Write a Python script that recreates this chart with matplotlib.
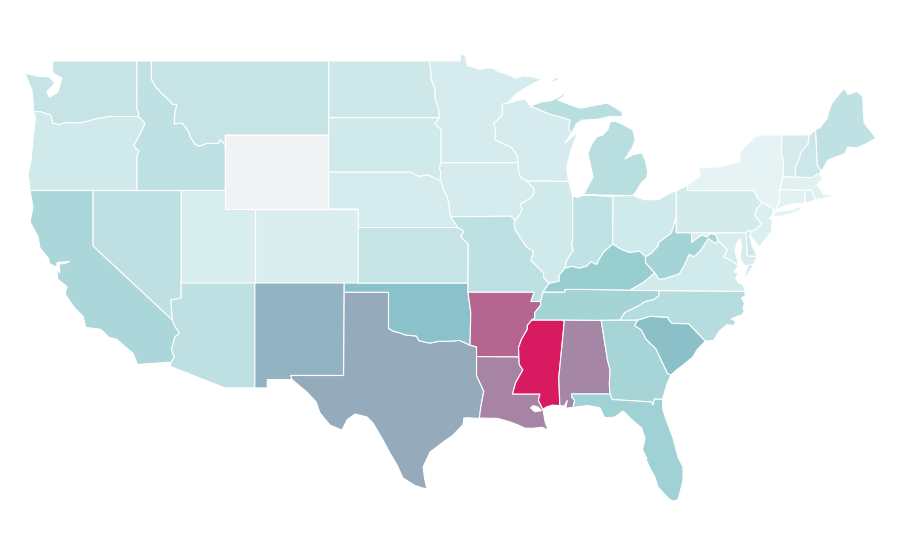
#!/usr/bin/env python3
# choropleth of the lower 48, outlines are plain lon/lat
import matplotlib
matplotlib.use("Agg")
import matplotlib.pyplot as plt
from matplotlib.colors import LinearSegmentedColormap, Normalize

# estimated rate per state, read from the fill colours
states = ["WA", "OR", "CA", "NV", "ID", "MT", "WY", "UT", "AZ", "CO", "NM", "TX", "OK", "KS", "NE", "SD", "ND",
          "MN", "IA", "MO", "AR", "LA", "MS", "AL", "WI", "IL", "IN", "MI", "OH", "KY", "TN", "GA", "FL", "SC",
          "NC", "VA", "WV", "MD", "DE", "PA", "NJ", "NY", "CT", "RI", "MA", "VT", "NH", "ME"]
values = [17, 13, 27, 20, 19.5, 17, 0, 10, 20, 9, 45, 48, 40, 17, 11.3, 13, 13.7,
          11.3, 11.3, 20.7, 73, 62, 100, 61, 11.3, 13, 19, 22, 13, 34.5, 30, 29.4, 32, 40.5,
          23.5, 12.5, 30, 10.5, 14, 11.7, 8.5, 5, 7, 8.5, 6.6, 11, 14.5, 19.6]

scale_stops = [0, 0.05, 0.345, 0.40, 1]
scale_colors = ["#f2f3f5", "#e4f3f4", "#99ced1", "#8bc1ca", "#d81b60"]


def rev(chain):
    return chain[::-1]


# shared borders (lon, lat), each used by both neighbours
wa_coast = [(-124.05, 46.27), (-124.05, 46.7), (-124.15, 47.43), (-124.4, 47.9), (-124.62, 48.35), (-123.8, 48.18),
            (-122.95, 48.13), (-122.6, 47.8), (-123.15, 47.32), (-122.95, 47.05), (-122.4, 47.3), (-122.1, 48.08),
            (-122.73, 48.35), (-122.75, 49.0)]
wa_or = [(-124.05, 46.27), (-123.55, 46.26), (-123.2, 46.15), (-122.9, 46.1), (-122.8, 45.87), (-122.75, 45.65),
         (-122.3, 45.55), (-121.9, 45.68), (-121.2, 45.65), (-120.9, 45.65), (-120.5, 45.72), (-119.6, 45.92),
         (-119.25, 45.93), (-119.0, 46.0), (-116.92, 46.0)]
id_wa = [(-117.03, 49.0), (-117.04, 46.42), (-116.92, 46.17), (-116.92, 46.0)]
or_id = [(-116.92, 46.0), (-116.7, 45.82), (-116.47, 45.6), (-116.67, 45.3), (-116.85, 45.0), (-117.23, 44.45),
         (-117.05, 44.23), (-116.9, 44.15), (-117.03, 43.83), (-117.03, 42.0)]
or_coast = [(-124.05, 46.27), (-123.9, 45.97), (-124.07, 44.73), (-124.2, 43.6), (-124.4, 42.95), (-124.27, 42.0)]
ca_coast = [(-124.27, 42.0), (-124.07, 41.1), (-124.27, 40.3), (-123.73, 39.5), (-123.6, 38.9), (-123.0, 38.3),
            (-122.95, 38.05), (-122.45, 37.85), (-122.45, 38.1), (-121.6, 38.17), (-121.9, 38.05), (-122.3, 38.03),
            (-122.25, 37.55), (-122.45, 37.75), (-122.4, 37.2), (-122.0, 36.95), (-121.77, 36.8), (-121.9, 36.4),
            (-121.3, 35.7), (-120.68, 35.2), (-120.5, 34.6), (-119.5, 34.5), (-118.9, 34.05), (-118.4, 33.96),
            (-117.9, 33.6), (-117.3, 33.2), (-117.0, 32.6)]
ca_nv = [(-120.0, 42.0), (-120.0, 39.0), (-114.63, 35.0)]
az_ca = [(-114.63, 35.0), (-114.55, 34.8), (-114.15, 34.27), (-114.45, 34.1), (-114.7, 33.4), (-114.5, 33.0),
         (-114.72, 32.72)]
az_nv = [(-114.04, 37.0), (-114.04, 36.2), (-114.4, 36.12), (-114.72, 36.1), (-114.7, 35.6), (-114.63, 35.0)]
id_mt = [(-116.05, 49.0), (-116.05, 48.0), (-115.7, 47.55), (-115.35, 47.25), (-114.95, 46.95), (-114.6, 46.65),
         (-114.33, 46.65), (-114.48, 46.1), (-114.5, 45.6), (-114.0, 45.65), (-113.8, 45.5), (-113.45, 45.05),
         (-113.45, 44.95), (-113.1, 44.5), (-112.8, 44.4), (-112.3, 44.55), (-111.5, 44.55), (-111.4, 44.75),
         (-111.05, 44.47), (-111.05, 42.0)]
sd_ne = [(-104.05, 43.0), (-98.5, 43.0), (-98.0, 42.77), (-97.3, 42.85), (-96.7, 42.6), (-96.45, 42.49)]
nd_mn = [(-97.23, 49.0), (-97.15, 48.5), (-97.1, 48.0), (-96.85, 47.5), (-96.85, 47.0), (-96.6, 46.35),
         (-96.56, 45.94)]
sd_mn = [(-96.56, 45.94), (-96.85, 45.6), (-96.45, 45.3), (-96.45, 43.5)]
sd_ia = [(-96.45, 43.5), (-96.55, 43.2), (-96.45, 43.0), (-96.5, 42.7), (-96.45, 42.49)]
ne_ia = [(-96.45, 42.49), (-96.25, 42.0), (-96.0, 41.6), (-95.9, 41.2), (-95.8, 40.58)]
ne_mo = [(-95.8, 40.58), (-95.3, 40.0)]
ks_mo = [(-95.3, 40.0), (-94.9, 39.8), (-95.1, 39.5), (-94.6, 39.1), (-94.62, 37.0)]
ok_ar = [(-94.62, 36.5), (-94.43, 35.4), (-94.48, 33.64)]
ok_tx = [(-103.0, 36.5), (-100.0, 36.5), (-100.0, 34.56), (-99.7, 34.4), (-99.2, 34.3), (-98.9, 34.2),
         (-98.1, 34.13), (-97.95, 33.88), (-97.2, 33.75), (-96.6, 33.85), (-95.8, 33.85), (-95.2, 33.9),
         (-94.48, 33.64)]
rio_grande = [(-106.53, 31.78), (-105.52, 31.1), (-104.9, 30.57), (-104.64, 29.97), (-103.96, 29.32),
              (-103.15, 29.05), (-102.81, 29.6), (-102.27, 29.92), (-101.46, 29.76), (-101.05, 29.43),
              (-100.37, 28.51), (-99.9, 27.8), (-99.42, 27.16), (-99.02, 26.46), (-98.2, 26.05), (-97.4, 25.85)]
tx_coast = [(-97.4, 25.85), (-97.55, 26.4), (-97.66, 27.05), (-97.19, 27.86), (-96.3, 28.4), (-95.63, 28.78),
            (-94.95, 29.35), (-94.9, 29.7), (-94.7, 29.72), (-94.0, 29.68), (-93.85, 29.7)]
tx_la = [(-94.04, 33.02), (-94.04, 32.0), (-93.55, 31.15), (-93.75, 30.3), (-93.85, 29.7)]
la_coast = [(-93.85, 29.7), (-92.6, 29.68), (-92.25, 29.6), (-91.8, 29.5), (-91.3, 29.35), (-90.75, 29.15),
            (-90.2, 29.15), (-89.6, 29.2), (-89.2, 29.05), (-89.4, 29.5), (-89.5, 29.97), (-89.55, 30.18)]
ms_la = [(-91.17, 33.0), (-91.15, 32.6), (-90.9, 32.3), (-91.05, 32.1), (-91.4, 31.6), (-91.6, 31.0), (-89.75, 31.0),
         (-89.85, 30.65), (-89.55, 30.18)]
ms_coast = [(-89.55, 30.18), (-89.3, 30.3), (-88.9, 30.4), (-88.4, 30.37)]
ms_al = [(-88.4, 30.37), (-88.47, 31.9), (-88.1, 34.9), (-88.2, 35.0)]
ms_ar = [(-90.3, 35.0), (-90.6, 34.7), (-90.6, 34.5), (-91.0, 33.95), (-91.2, 33.5), (-91.17, 33.0)]
ar_tn = [(-89.7, 36.0), (-89.7, 35.8), (-90.1, 35.4), (-90.1, 35.1), (-90.3, 35.0)]
ar_mo = [(-94.62, 36.5), (-90.15, 36.5), (-90.37, 36.0), (-89.7, 36.0)]
mo_il = [(-89.13, 36.98), (-89.5, 37.3), (-89.5, 37.55), (-90.2, 38.1), (-90.35, 38.2), (-90.18, 38.7),
         (-90.65, 38.95), (-90.7, 39.0), (-91.4, 39.85), (-91.5, 40.2), (-91.42, 40.38)]
ia_mo = [(-95.8, 40.58), (-91.73, 40.61), (-91.42, 40.38)]
ia_il = [(-91.42, 40.38), (-91.1, 40.7), (-90.95, 41.0), (-91.1, 41.25), (-90.35, 41.6), (-90.15, 41.85),
         (-90.15, 42.1), (-90.64, 42.51)]
ia_wi = [(-90.64, 42.51), (-91.1, 42.75), (-91.2, 43.1), (-91.22, 43.5)]
mn_wi = [(-91.22, 43.5), (-91.3, 43.9), (-91.7, 44.35), (-92.3, 44.55), (-92.8, 44.75), (-92.75, 45.3),
         (-92.88, 45.6), (-92.3, 46.1), (-92.3, 46.66), (-92.0, 46.7)]
mn_north = [(-97.23, 49.0), (-95.15, 49.0), (-95.15, 49.38), (-94.8, 49.3), (-94.65, 48.75), (-93.8, 48.55),
            (-93.35, 48.62), (-92.95, 48.62), (-92.5, 48.4), (-92.0, 48.3), (-91.4, 48.07), (-90.8, 48.2),
            (-90.0, 48.1), (-89.6, 48.0), (-90.3, 47.75), (-91.3, 47.25), (-92.0, 46.7)]
wi_sup = [(-92.0, 46.7), (-91.2, 46.87), (-90.75, 46.95), (-90.4, 46.57)]
wi_mi = [(-90.4, 46.57), (-89.1, 46.13), (-88.1, 45.92), (-87.7, 45.8), (-87.8, 45.35), (-87.6, 45.1)]
wi_lake = [(-87.6, 45.1), (-88.05, 44.57), (-87.15, 45.18), (-87.45, 44.6), (-87.7, 44.03), (-87.93, 43.27),
           (-87.9, 43.0), (-87.8, 42.49)]
il_in = [(-87.53, 41.71), (-87.53, 39.35), (-87.6, 39.1), (-87.5, 38.75), (-87.95, 38.2), (-88.05, 37.8)]
il_ky = [(-88.05, 37.8), (-88.45, 37.42), (-88.45, 37.1), (-89.13, 36.98)]
in_ky = [(-88.05, 37.8), (-87.6, 37.9), (-87.1, 37.8), (-86.6, 37.9), (-86.3, 38.15), (-85.9, 38.0),
         (-85.75, 38.27), (-85.4, 38.7), (-84.82, 39.1)]
oh_coast = [(-83.45, 41.73), (-82.7, 41.5), (-81.7, 41.5), (-81.0, 41.85), (-80.52, 41.98)]
oh_wv = [(-80.52, 40.64), (-80.65, 40.2), (-80.85, 39.7), (-81.7, 39.2), (-81.75, 39.0), (-82.2, 38.6),
         (-82.6, 38.42)]
oh_ky = [(-82.6, 38.42), (-83.0, 38.72), (-83.7, 38.65), (-84.2, 38.8), (-84.82, 39.1)]
ky_wv = [(-82.6, 38.42), (-82.6, 38.1), (-81.97, 37.54)]
ky_va = [(-81.97, 37.54), (-82.7, 37.05), (-83.67, 36.6)]
ky_tn = [(-89.55, 36.5), (-88.07, 36.5), (-88.05, 36.65), (-86.5, 36.65), (-83.67, 36.6)]
tn_nc = [(-81.68, 36.59), (-81.7, 36.3), (-82.05, 36.1), (-82.6, 36.0), (-83.1, 35.75), (-84.0, 35.4),
         (-84.32, 34.99)]
al_ga = [(-85.6, 34.98), (-85.18, 32.87), (-85.0, 32.3), (-85.05, 31.55), (-85.0, 31.0)]
al_fl = [(-85.0, 31.0), (-87.6, 31.0), (-87.6, 30.85), (-87.4, 30.65), (-87.5, 30.28)]
al_coast = [(-87.5, 30.28), (-88.0, 30.23), (-87.9, 30.65), (-88.1, 30.35), (-88.4, 30.37)]
ga_fl = [(-85.0, 31.0), (-84.86, 30.7), (-82.2, 30.57), (-82.1, 30.4), (-82.0, 30.72), (-81.45, 30.71)]
ga_sc = [(-83.11, 35.0), (-83.35, 34.7), (-82.9, 34.48), (-82.55, 33.95), (-81.9, 33.45), (-81.4, 32.6),
         (-81.1, 32.1), (-80.87, 32.03)]
ga_coast = [(-80.87, 32.03), (-81.15, 31.55), (-81.45, 30.71)]
fl_coast = [(-87.5, 30.28), (-86.5, 30.38), (-85.68, 30.25), (-85.4, 29.75), (-85.2, 29.72), (-84.7, 29.75),
            (-84.12, 30.08), (-83.5, 29.6), (-82.85, 29.15), (-82.63, 28.6), (-82.8, 28.0), (-82.5, 27.5),
            (-82.7, 27.7), (-82.3, 27.0), (-81.96, 26.5), (-81.75, 25.97), (-81.07, 25.38), (-80.74, 25.2),
            (-80.4, 25.3), (-80.26, 25.7), (-80.06, 26.35), (-80.06, 27.05), (-80.4, 27.59), (-80.74, 28.62),
            (-81.2, 29.6), (-81.42, 30.14), (-81.45, 30.71)]
nc_sc = [(-83.11, 35.0), (-82.3, 35.2), (-81.05, 35.15), (-81.05, 35.05), (-80.8, 34.82), (-79.67, 34.8),
         (-78.55, 33.86)]
sc_coast = [(-78.55, 33.86), (-79.1, 33.4), (-79.4, 33.0), (-80.0, 32.6), (-80.5, 32.3), (-80.87, 32.03)]
nc_coast = [(-78.55, 33.86), (-78.0, 33.9), (-77.6, 34.4), (-77.1, 34.75), (-76.6, 34.7), (-76.5, 34.95),
            (-76.8, 35.05), (-76.4, 35.2), (-76.1, 35.25), (-75.9, 35.5), (-76.0, 35.6), (-75.9, 35.9),
            (-76.1, 36.2), (-75.85, 36.3), (-75.87, 36.55)]
va_wv = [(-81.97, 37.54), (-81.68, 37.2), (-81.25, 37.25), (-80.3, 37.5), (-79.95, 38.0), (-79.65, 38.55),
         (-79.3, 38.42), (-78.87, 38.77), (-78.35, 39.4), (-77.83, 39.13), (-77.72, 39.32)]
va_md = [(-77.72, 39.32), (-77.45, 39.1), (-77.05, 38.8), (-77.3, 38.4), (-77.0, 38.3), (-76.3, 37.95)]
va_coast = [(-76.3, 37.95), (-76.6, 37.6), (-76.3, 37.55), (-76.5, 37.25), (-76.3, 37.0), (-76.0, 36.9),
            (-75.87, 36.55)]
va_shore = [(-76.0, 37.15), (-75.65, 37.5), (-75.25, 38.03), (-75.65, 37.95)]
wv_md = [(-77.72, 39.32), (-77.83, 39.6), (-78.2, 39.68), (-78.45, 39.5), (-78.75, 39.6), (-79.05, 39.47),
         (-79.48, 39.2), (-79.48, 39.72)]
md_shore = [(-75.05, 38.45), (-75.25, 38.03), (-75.65, 37.95), (-75.9, 37.95), (-76.2, 38.35), (-76.1, 38.9),
            (-76.2, 39.4), (-76.4, 39.2), (-76.55, 38.75), (-76.4, 38.3), (-76.3, 37.95)]
pa_ny = [(-79.76, 42.27), (-79.76, 42.0), (-75.35, 42.0), (-75.05, 41.75), (-75.05, 41.6), (-74.7, 41.36)]
pa_nj = [(-74.7, 41.36), (-75.1, 40.95), (-75.2, 40.68), (-74.75, 40.2), (-75.1, 39.9), (-75.42, 39.8)]
nj_coast = [(-73.9, 41.0), (-74.02, 40.65), (-74.25, 40.5), (-74.0, 40.45), (-74.1, 39.75), (-74.4, 39.45),
            (-74.9, 38.93), (-75.2, 39.25), (-75.55, 39.6), (-75.42, 39.8)]
ny_lake = [(-79.76, 42.27), (-78.9, 42.8), (-79.0, 43.23), (-77.7, 43.27), (-76.5, 43.5), (-76.2, 43.55),
           (-76.2, 44.1), (-75.2, 44.9), (-74.7, 45.0), (-73.35, 45.0)]
ny_vt = [(-73.35, 45.0), (-73.4, 44.0), (-73.25, 43.6), (-73.27, 42.75)]
ny_ct = [(-73.5, 42.05), (-73.55, 41.3), (-73.73, 41.1), (-73.65, 41.0)]
long_island = [(-74.05, 40.6), (-73.75, 40.85), (-72.6, 40.97), (-72.3, 41.1), (-71.87, 41.07), (-72.5, 40.8),
               (-73.6, 40.58)]
vt_nh = [(-71.5, 45.01), (-71.6, 44.5), (-72.05, 44.1), (-72.2, 43.7), (-72.45, 43.2), (-72.46, 42.73)]
nh_ma = [(-72.46, 42.73), (-71.3, 42.7), (-71.0, 42.87), (-70.82, 42.87)]
nh_me = [(-70.72, 43.07), (-70.97, 43.4), (-71.08, 45.3)]
ma_coast = [(-70.82, 42.87), (-70.6, 42.65), (-71.0, 42.3), (-70.65, 41.95), (-70.55, 41.78), (-70.0, 41.78),
            (-70.2, 42.05), (-69.95, 41.7), (-70.65, 41.55), (-71.13, 41.5)]
me_coast = [(-71.08, 45.3), (-70.8, 45.4), (-70.3, 45.9), (-70.2, 46.25), (-70.0, 46.7), (-69.23, 47.46),
            (-69.05, 47.43), (-68.9, 47.18), (-68.3, 47.36), (-67.9, 47.1), (-67.8, 45.65), (-67.45, 45.3),
            (-67.0, 44.84), (-67.6, 44.55), (-68.3, 44.3), (-68.9, 44.35), (-69.1, 44.0), (-69.75, 43.8),
            (-70.25, 43.65), (-70.6, 43.15), (-70.72, 43.07)]
mi_lower = [(-83.45, 41.73), (-83.15, 42.05), (-82.9, 42.4), (-82.5, 42.7), (-82.45, 43.0), (-82.6, 43.6),
            (-82.85, 44.03), (-83.4, 43.95), (-84.0, 43.7), (-83.5, 44.3), (-83.3, 44.73), (-83.45, 45.27),
            (-84.2, 45.6), (-84.7, 45.75), (-85.0, 45.7), (-85.15, 45.3), (-85.5, 45.0), (-85.9, 44.9),
            (-86.25, 44.5), (-86.5, 44.0), (-86.3, 43.3), (-86.15, 42.73), (-86.5, 42.2), (-86.82, 41.76)]
mi_upper = [(-90.4, 46.57), (-89.6, 46.8), (-89.0, 46.85), (-88.45, 47.05), (-87.85, 47.43), (-88.2, 47.05),
            (-88.53, 46.89), (-87.6, 46.6), (-87.0, 46.45), (-86.0, 46.6), (-85.2, 46.73), (-84.6, 46.45),
            (-84.2, 46.25), (-84.15, 46.0), (-85.0, 46.0), (-85.9, 45.85), (-86.9, 45.8), (-87.3, 45.6),
            (-87.6, 45.1)]
isle_royale = [(-89.2, 47.85), (-88.5, 48.15), (-88.6, 47.95)]
lake_pontchartrain = [(-90.4, 30.25), (-90.2, 30.38), (-89.9, 30.32), (-89.6, 30.1), (-90.1, 30.03)]

outlines = {
    "WA": [[(-122.75, 49.0)] + id_wa + rev(wa_or) + wa_coast],
    "OR": [wa_or + or_id + [(-120.0, 42.0)] + rev(or_coast)],
    "CA": [[(-124.27, 42.0)] + ca_nv + az_ca + rev(ca_coast)],
    "NV": [[(-120.0, 42.0), (-114.04, 42.0)] + az_nv + rev(ca_nv)],
    "ID": [id_wa[:1] + id_mt + [(-117.03, 42.0)] + rev(or_id) + rev(id_wa)],
    "MT": [[(-116.05, 49.0), (-104.05, 49.0), (-104.05, 45.0), (-111.05, 45.0)] + rev(id_mt[:-1])],
    "WY": [[(-111.05, 45.0), (-104.05, 45.0), (-104.05, 41.0), (-111.05, 41.0)]],
    "UT": [[(-114.04, 42.0), (-111.05, 42.0), (-111.05, 41.0), (-109.05, 41.0), (-109.05, 37.0), (-114.04, 37.0)]],
    "AZ": [[(-114.04, 37.0), (-109.05, 37.0), (-109.05, 31.33), (-111.07, 31.33), (-114.8, 32.5)]
           + rev(az_ca) + rev(az_nv)],
    "CO": [[(-109.05, 41.0), (-102.05, 41.0), (-102.05, 37.0), (-109.05, 37.0)]],
    "NM": [[(-109.05, 37.0), (-103.0, 37.0), (-103.0, 36.5), (-103.04, 32.0), (-106.62, 32.0), (-106.53, 31.78),
            (-108.21, 31.78), (-108.21, 31.33), (-109.05, 31.33)]],
    "TX": [ok_tx + [(-94.04, 33.55)] + tx_la + rev(tx_coast) + rev(rio_grande) + [(-106.62, 32.0), (-103.04, 32.0)]],
    "OK": [[(-103.0, 37.0), (-94.62, 37.0)] + ok_ar + rev(ok_tx)],
    "KS": [[(-102.05, 40.0)] + ks_mo + [(-102.05, 37.0)]],
    "NE": [sd_ne + ne_ia + ne_mo + [(-102.05, 40.0), (-102.05, 41.0), (-104.05, 41.0)]],
    "SD": [[(-104.05, 45.94)] + sd_mn + sd_ia + rev(sd_ne)],
    "ND": [[(-104.05, 49.0)] + nd_mn + [(-104.05, 45.94)]],
    "MN": [mn_north + rev(mn_wi) + rev(sd_mn) + rev(nd_mn)],
    "IA": [[(-96.45, 43.5)] + rev(ia_wi) + rev(ia_il) + rev(ia_mo) + rev(ne_ia) + rev(sd_ia)],
    "MO": [ia_mo + rev(mo_il) + [(-89.55, 36.5)] + rev(ar_mo) + [(-94.62, 37.0)] + rev(ks_mo) + rev(ne_mo)],
    "AR": [ar_mo + ar_tn + ms_ar + [(-94.04, 33.02), (-94.04, 33.55)] + rev(ok_ar)],
    "LA": [[(-94.04, 33.02)] + ms_la + rev(la_coast) + rev(tx_la)],
    "MS": [rev(ms_ar) + rev(ms_al) + rev(ms_coast) + rev(ms_la)],
    "AL": [[(-88.2, 35.0)] + al_ga + al_fl + al_coast + ms_al],
    "WI": [wi_sup + wi_mi + wi_lake + ia_wi + mn_wi],
    "IL": [[(-90.64, 42.51)] + wi_lake[-1:] + [(-87.6, 41.85)] + il_in + il_ky + mo_il + ia_il],
    "IN": [il_in[:1] + [(-87.2, 41.62), (-86.82, 41.76), (-84.8, 41.7)] + rev(in_ky) + rev(il_in)],
    "MI": [[(-86.82, 41.76), (-84.8, 41.7)] + rev(mi_lower), mi_upper + rev(wi_mi), isle_royale],
    "OH": [[(-84.8, 41.7)] + oh_coast + oh_wv + oh_ky],
    "KY": [in_ky + rev(oh_ky) + ky_wv + ky_va + rev(ky_tn) + [(-89.13, 36.98)] + rev(il_ky)],
    "TN": [ky_tn + tn_nc + [(-85.6, 34.98), (-88.2, 35.0)] + rev(ar_tn)],
    "GA": [[(-84.32, 34.99)] + ga_sc + ga_coast + rev(ga_fl) + rev(al_ga)],
    "FL": [ga_fl + rev(fl_coast) + rev(al_fl)],
    "SC": [nc_sc + sc_coast + rev(ga_sc)],
    "NC": [[(-81.68, 36.59)] + rev(nc_coast) + rev(nc_sc) + [(-84.32, 34.99)] + rev(tn_nc)],
    "VA": [va_wv + va_md + va_coast + [(-81.68, 36.59)] + rev(ky_va), va_shore],
    "WV": [oh_wv + ky_wv + va_wv + wv_md + [(-80.52, 39.72)]],
    "MD": [[(-79.48, 39.72), (-75.79, 39.72), (-75.7, 38.46)] + md_shore + rev(va_md) + wv_md],
    "DE": [[(-75.79, 39.72), (-75.6, 39.84), (-75.42, 39.8), (-75.55, 39.5), (-75.4, 39.05), (-75.05, 38.45),
            (-75.7, 38.46)]],
    "PA": [[(-80.52, 41.98)] + pa_ny + pa_nj + [(-75.6, 39.84), (-75.79, 39.72), (-80.52, 39.72)]],
    "NJ": [pa_nj[:1] + nj_coast + rev(pa_nj)],
    "NY": [ny_lake + ny_vt + ny_ct + [(-73.9, 40.85), (-73.9, 41.0)] + rev(pa_ny), long_island],
    "CT": [ny_ct[:1] + [(-71.8, 42.02), (-71.8, 41.32), (-72.9, 41.25)] + rev(ny_ct)],
    "RI": [[(-71.8, 42.02), (-71.38, 42.02), (-71.2, 41.7), (-71.13, 41.5), (-71.5, 41.37), (-71.8, 41.32)]],
    "MA": [ny_vt[-1:] + nh_ma + ma_coast + [(-71.2, 41.7), (-71.38, 42.02), (-73.5, 42.05)]],
    "VT": [ny_vt[:1] + vt_nh + rev(ny_vt)],
    "NH": [vt_nh[:1] + rev(nh_me) + rev(nh_ma) + rev(vt_nh[1:])],
    "ME": [me_coast + nh_me],
}

cmap = LinearSegmentedColormap.from_list("rate", list(zip(scale_stops, scale_colors)))
norm = Normalize(0, 100)

fig = plt.figure(figsize=(9, 5.6), dpi=100)
ax = fig.add_axes([0, 0, 1, 1])
for name, val in zip(states, values):
    for ring in outlines[name]:
        lon, lat = zip(*ring)
        ax.fill(lon, lat, facecolor=cmap(norm(val)), edgecolor="white", linewidth=0.8, joinstyle="round")
lon, lat = zip(*lake_pontchartrain)
ax.fill(lon, lat, facecolor="white", edgecolor="white", linewidth=0.5)

ax.set_xlim(-126.304, -65.37)
ax.set_ylim(22.027, 52.297)
ax.axis("off")
fig.savefig("out.png", dpi=100)
